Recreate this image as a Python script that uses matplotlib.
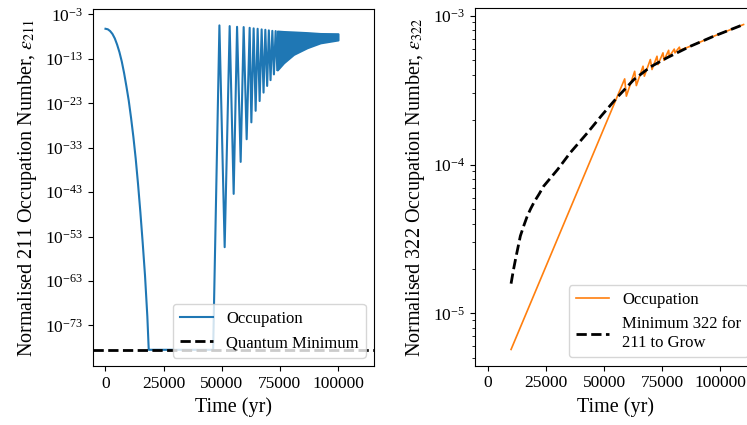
import numpy as np
import matplotlib
matplotlib.use("Agg")
import matplotlib.pyplot as plt
from matplotlib.ticker import NullLocator

plt.rcParams.update({'font.family': 'serif',
                     'font.serif': ['Liberation Serif', 'DejaVu Serif'],
                     'mathtext.fontset': 'stix',
                     'font.size': 12.5,
                     'legend.fontsize': 12})

# 211 occupation (log10)
t_211 = [0, 1000, 2000, 3000, 4000, 5000, 6000, 7000, 8000, 9000, 10000, 11000, 12000,
         13000, 14000, 15000, 16000, 17000, 18000, 18600,
         46300, 49000, 51260, 53410, 55130, 56590, 58140, 59430, 60720, 62010, 62740,
         63720, 64580, 65440, 66300, 67160, 67980, 68750, 69530, 70260, 70990,
         71760, 72450, 73180, 73910]
log_211 = [-6.23, -6.35, -6.75, -7.4, -8.4, -9.8, -11.5, -13.6, -16.2, -19.2, -22.4, -26.3, -30.6,
           -35.5, -41.2, -47.5, -54.4, -61.8, -71.0, -78.5,
           -78.5, -5.47, -55.4, -5.63, -43.4, -5.79, -36.2, -5.85, -31.1, -6.01, -27.3,
           -6.14, -24.7, -6.23, -22.5, -6.37, -20.6, -6.46, -19.1, -6.59, -17.8,
           -6.7, -16.5, -6.75, -15.5]

# fast oscillation band (upper / lower envelope, log10)
t_band = [73900, 76600, 80900, 86700, 92400, 100000]
band_hi = [-6.75, -6.85, -6.95, -7.1, -7.3, -7.35]
band_lo = [-15.5, -13.9, -12.0, -10.5, -9.4, -8.75]

quantum_min = -78.5

# 322 occupation and minimum for 211 growth (log10)
t_322 = [10000, 58870, 59600, 63170, 63890, 66760, 67330, 69910, 70620, 72770, 73200,
         75350, 75780, 77780, 78070, 80200, 80500, 82400, 82700, 87100, 97100, 110000]
log_322 = [-5.242, -3.425, -3.541, -3.374, -3.470, -3.340, -3.407, -3.295, -3.362, -3.273, -3.329,
           -3.250, -3.300, -3.233, -3.275, -3.225, -3.250, -3.212, -3.232, -3.206, -3.139, -3.060]

t_min = [10000, 11000, 12000, 13000, 14000, 15500, 17000, 18500, 20000, 22000, 24000,
         27000, 30000, 35500, 42700, 49000, 55600, 62800, 69900, 77100, 87100, 97100, 110000]
log_min = [-4.80, -4.71, -4.63, -4.555, -4.48, -4.41, -4.345, -4.295, -4.25, -4.20, -4.146,
           -4.09, -4.034, -3.92, -3.79, -3.67, -3.55, -3.43, -3.345, -3.283, -3.206, -3.139, -3.060]

fig = plt.figure(figsize=(7.47, 4.25), dpi=100)
ax1 = fig.add_axes([0.1241, 0.1388, 0.3766, 0.8393])
ax2 = fig.add_axes([0.6359, 0.1395, 0.3766, 0.8410])

ax1.plot(t_211, 10**np.array(log_211), color='#1f77b4', lw=1.5, label='Occupation')
ax1.fill_between(t_band, 10**np.array(band_lo), 10**np.array(band_hi),
                 color='#1f77b4', lw=1.5, edgecolor='#1f77b4')
ax1.axhline(10**quantum_min, color='black', ls='--', lw=2, label='Quantum Minimum')
ax1.set_yscale('log')
ax1.set_ylim(10**-82.15, 10**-1.85)
ax1.set_yticks([1e-3, 1e-13, 1e-23, 1e-33, 1e-43, 1e-53, 1e-63, 1e-73])
ax1.yaxis.set_minor_locator(NullLocator())
ax1.set_xlim(-5500, 115500)
ax1.set_xticks([0, 25000, 50000, 75000, 100000])
ax1.set_xlabel('Time (yr)', fontsize=14.5)
ax1.set_ylabel(r'Normalised 211 Occupation Number, $\varepsilon_{211}$', fontsize=14.5)
ax1.legend(loc='lower right')

ax2.plot(t_322, 10**np.array(log_322), color='#ff7f0e', lw=1.2, label='Occupation')
ax2.plot(t_min, 10**np.array(log_min), color='black', ls='--', lw=2,
         label='Minimum 322 for\n211 to Grow')
ax2.set_yscale('log')
ax2.set_xlim(-5500, 115500)
ax2.set_xticks([0, 25000, 50000, 75000, 100000])
ax2.set_xlabel('Time (yr)', fontsize=14.5)
ax2.set_ylabel(r'Normalised 322 Occupation Number, $\varepsilon_{322}$', fontsize=14.5)
ax2.legend(loc='lower right')

fig.savefig('out.png', dpi=100)
